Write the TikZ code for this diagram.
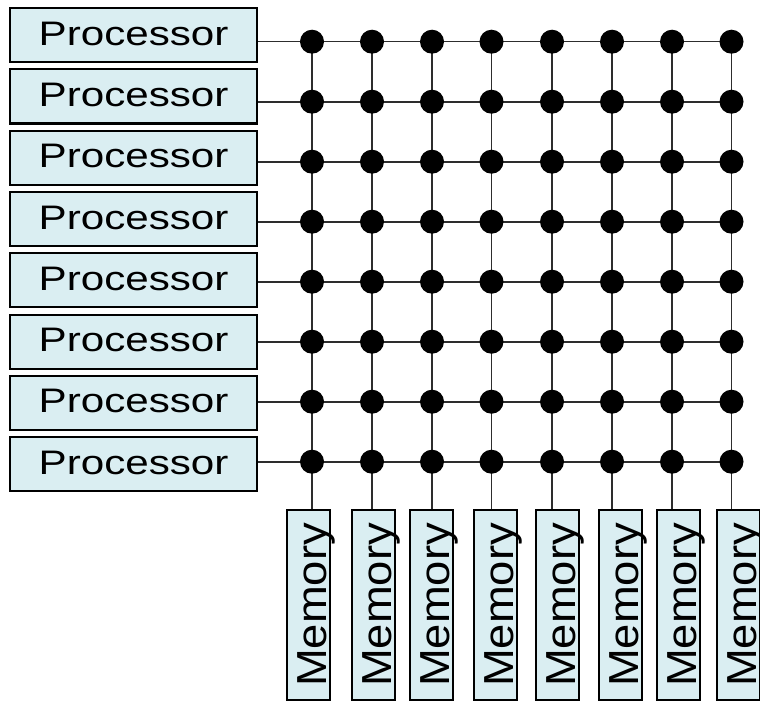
\documentclass[tikz,border=0pt]{standalone}
\usepackage{fontspec}
\setmainfont{Liberation Sans}
\definecolor{boxfill}{RGB}{218,238,242}
\definecolor{wirecol}{RGB}{45,45,45}
\newcommand{\proctext}{\fontsize{34}{40}\selectfont\scalebox{1.24}[1]{Processor}}
\newcommand{\memtext}{\fontsize{42}{48}\selectfont\scalebox{1.08}[1]{Memory}}
\begin{document}
\begin{tikzpicture}[x=1pt,y=-1pt,
  procbox/.style={draw=black, line width=2.2pt, fill=boxfill, inner sep=0pt,
    minimum width=247pt, minimum height=54pt, text height=22pt, text depth=2pt},
  membox/.style={draw=black, line width=2.2pt, fill=boxfill, inner sep=0pt, rotate=90,
    minimum width=190pt, minimum height=43pt, text height=37pt, text depth=2pt},
  wire/.style={draw=wirecol, line width=1.6pt},
  xdot/.style={circle, fill=black, minimum size=24pt, inner sep=0pt}]
\useasboundingbox (0,0) rectangle (760,701);
% processors
\foreach \i in {1,...,8} {
  \pgfmathsetmacro\ty{7+61.3*(\i-1)}
  \node[procbox, anchor=north west] (p\i) at (9,\ty) {\proctext};
}
% memories
\foreach \j/\mx in {1/308.5,2/373.5,3/431.5,4/495.5,5/557.5,6/620.5,7/678.5,8/738.5} {
  \node[membox] (m\j) at (\mx,605) {\memtext};
}
% crossing points
\foreach \j/\cx in {1/312,2/372,3/432,4/491.5,5/552,6/612,7/672,8/731.5} {
  \foreach \i in {1,...,8} {
    \pgfmathsetmacro\ry{41.7+60*(\i-1)}
    \coordinate (c-\i-\j) at (\cx,\ry);
  }
}
% wires
\foreach \i in {1,...,8} {
  \draw[wire] (p\i.east |- c-\i-1) -- (c-\i-8);
}
\foreach \j in {1,...,8} {
  \draw[wire] (c-1-\j) -- (c-1-\j |- m\j.east);
}
% dots
\foreach \i in {1,...,8} {
  \foreach \j in {1,...,8} {
    \node[xdot] (d-\i-\j) at (c-\i-\j) {};
  }
}
\end{tikzpicture}
\end{document}
